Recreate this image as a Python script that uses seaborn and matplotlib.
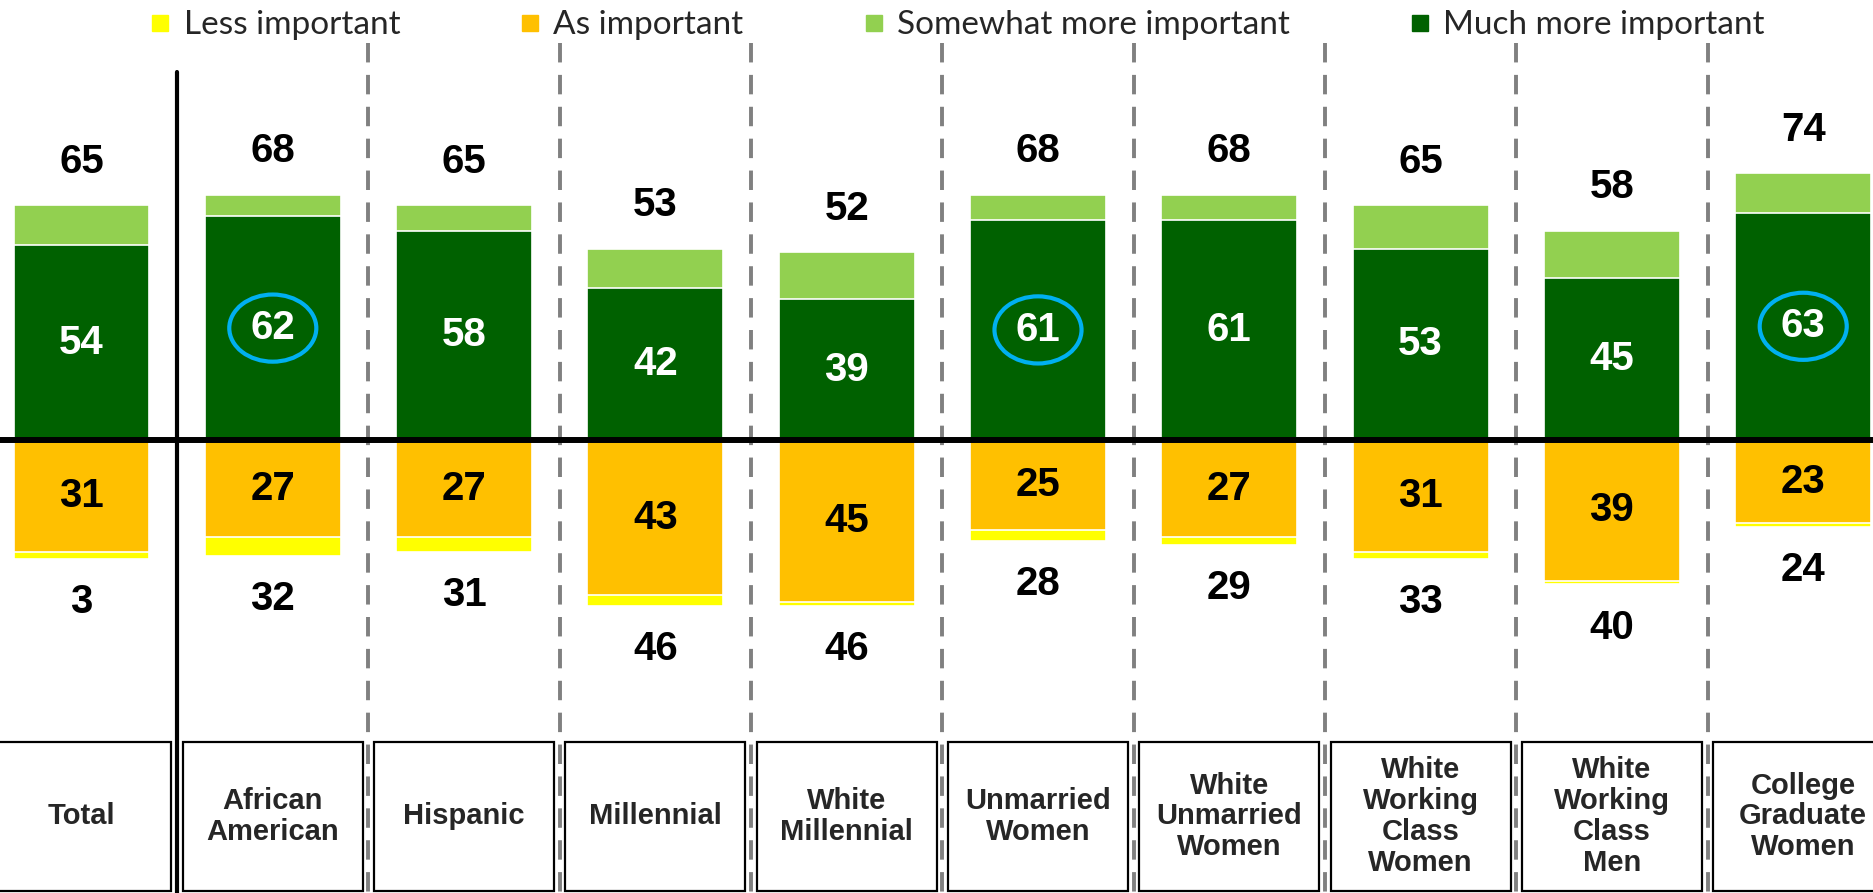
import matplotlib.pyplot as plt
import seaborn as sns
import pandas as pd
from matplotlib.patches import Ellipse, Rectangle
from matplotlib.lines import Line2D

# Survey values (percent)
groups = ['Total', 'African\nAmerican', 'Hispanic', 'Millennial', 'White\nMillennial',
          'Unmarried\nWomen', 'White\nUnmarried\nWomen', 'White\nWorking\nClass\nWomen',
          'White\nWorking\nClass\nMen', 'College\nGraduate\nWomen']
much_more = [54, 62, 58, 42, 39, 61, 61, 53, 45, 63]
somewhat_more = [11, 6, 7, 11, 13, 7, 7, 12, 13, 11]
as_important = [31, 27, 27, 43, 45, 25, 27, 31, 39, 23]
less_important = [2, 5, 4, 3, 1, 3, 2, 2, 1, 1]
top_labels = ['65', '68', '65', '53', '52', '68', '68', '65', '58', '74']
bottom_labels = ['3', '32', '31', '46', '46', '28', '29', '33', '40', '24']
circled = ['African\nAmerican', 'Unmarried\nWomen', 'College\nGraduate\nWomen']

colors = {'less': '#FFFF00', 'as': '#FFC000', 'somewhat': '#92D050', 'much': '#006100'}

df = pd.DataFrame({'group': groups, 'much': much_more, 'somewhat': somewhat_more,
                   'as': as_important, 'less': less_important})
df['more_total'] = df['much'] + df['somewhat']
df['neg_as'] = -df['as']
df['neg_total'] = -(df['as'] + df['less'])

sns.set_style('white')
plt.rcParams['font.family'] = ['Lato', 'DejaVu Sans']

fig = plt.figure(figsize=(18.74, 8.93), dpi=100)
ax = fig.add_axes([0, 0, 1, 1])

bar_kw = dict(width=0.71, edgecolor='white', linewidth=1.2, saturation=1, ax=ax, zorder=3)
# stacked by overdrawing: totals first, then inner segment
sns.barplot(data=df, x='group', y='more_total', color=colors['somewhat'], **bar_kw)
sns.barplot(data=df, x='group', y='much', color=colors['much'], **bar_kw)
sns.barplot(data=df, x='group', y='neg_total', color=colors['less'], **bar_kw)
sns.barplot(data=df, x='group', y='neg_as', color=colors['as'], **bar_kw)

ax.set_xlim(-0.426, 9.37)
ax.set_ylim(-125.5, 121.9)
ax.set_axis_off()

# zero line and separators
ax.axhline(0, color='black', lw=4.3, zorder=5)
ax.plot([0.5, 0.5], [102, -125.5], color='black', lw=3, zorder=2, clip_on=False)
for i in range(1, 9):
    ax.plot([i + 0.5, i + 0.5], [110, -125.5], color='#808080', lw=2.8,
            linestyle=(0, (5, 3.2)), zorder=1)

num_kw = dict(ha='center', va='center', fontsize=29, fontweight='bold',
              family=['Liberation Sans', 'DejaVu Sans'], zorder=6)
for i, row in df.iterrows():
    ax.text(i, row['much'] / 2, str(row['much']), color='white', **num_kw)
    ax.text(i, -row['as'] / 2, str(row['as']), color='black', **num_kw)
    ax.text(i, row['more_total'] + 12, top_labels[i], color='black', **num_kw)
    ax.text(i, row['neg_total'] - 12, bottom_labels[i], color='black', **num_kw)
    if row['group'] in circled:
        ax.add_patch(Ellipse((i, row['much'] / 2), 0.455, 18.6, fill=False,
                             edgecolor='#00B0F0', lw=3, zorder=6))
    # category box
    ax.add_patch(Rectangle((i - 0.47, -124.9), 0.94, 41.2, fill=True, facecolor='white',
                           edgecolor='black', lw=1.6, zorder=4))
    ax.text(i, -104.3, row['group'], ha='center', va='center', fontsize=21,
            fontweight='bold', family=['Liberation Sans', 'DejaVu Sans'],
            linespacing=1.13, zorder=6)

handles = [Line2D([], [], marker='s', linestyle='', markersize=12, color=colors[k])
           for k in ['less', 'as', 'somewhat', 'much']]
labels = ['Less important', 'As important', 'Somewhat more important', 'Much more important']
fig.legend(handles, labels, loc='upper center', bbox_to_anchor=(0.51, 1.022), ncol=4,
           frameon=False, fontsize=24, columnspacing=3.5, handletextpad=0.3,
           handlelength=0.8)

fig.savefig('out.png', dpi=100)
